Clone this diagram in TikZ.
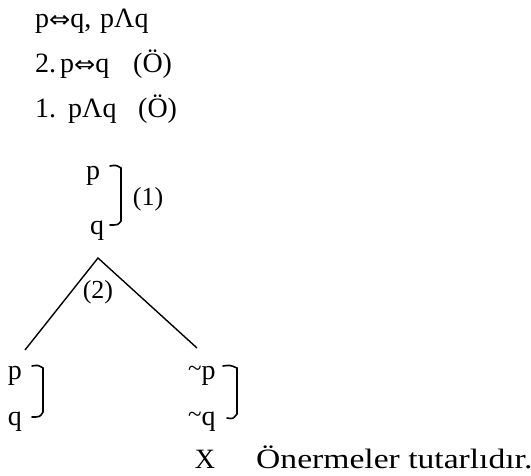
\documentclass[tikz,border=0pt]{standalone}
\usepackage{fontspec}
\setmainfont{Liberation Serif}
\newfontfamily\widef[FakeStretch=1.2]{Liberation Serif}
\newfontfamily\symf[FakeStretch=1.1]{DejaVu Sans}
\newcommand{\myiff}{{\symf\fontsize{23}{26}\selectfont ⇔}}
\newcommand{\mytil}{{\fontsize{25}{28}\selectfont\raisebox{3pt}{\char"7E}}}
\begin{document}
\begin{tikzpicture}[x=1pt,y=-1pt,
  txt/.style={inner sep=0pt,anchor=base west,font=\fontsize{28}{32}\selectfont},
  ctxt/.style={inner sep=0pt,anchor=base,font=\fontsize{28}{32}\selectfont},
  brk/.style={line width=1.6pt,line cap=round},
  branch/.style={line width=1.4pt}]
\useasboundingbox (0,0) rectangle (531,476);
% premises
\node[txt] (l1a) at (35,28) {p\myiff q,};
\node[txt] (l1b) at (100,28) {pΛq};
\node[txt] (l2a) at (35,73) {2.};
\node[txt] (l2b) at (60,73) {p\myiff q};
\node[txt] (l2c) at (133,73) {(Ö)};
\node[txt] (l3a) at (35,118) {1.};
\node[txt] (l3b) at (68,118) {pΛq};
\node[txt] (l3c) at (138,118) {(Ö)};
% trunk
\node[ctxt] (tp) at (93,180) {p};
\node[ctxt] (tq) at (97,235) {q};
\draw[brk] (110,166) .. controls (116,165) .. (121,168) -- (121,221) .. controls (118,225) .. (110,225);
\node[ctxt,font=\fontsize{26}{30}\selectfont] (one) at (148,206) {(1)};
% branches
\coordinate (apex) at (98,258);
\coordinate (lend) at (25,350);
\coordinate (rend) at (197,348);
\draw[branch] (lend) -- (apex) -- (rend);
\node[ctxt,font=\fontsize{26}{30}\selectfont] (two) at (98,299) {(2)};
% left branch
\node[ctxt] (lp) at (15,379) {p};
\node[ctxt] (lq) at (15,425) {q};
\draw[brk] (32,366) .. controls (38,365) .. (43,368) -- (43,412) .. controls (40,417) .. (32,417);
% right branch
\node[txt] (rp) at (188,379) {\mytil p};
\node[txt] (rq) at (188,425) {\mytil q};
\draw[brk] (223,366) .. controls (230,365) .. (237,368) -- (237,414) .. controls (233,419) .. (227,418);
\node[ctxt] (x) at (205,468) {X};
\node[txt,font=\widef\fontsize{28}{32}\selectfont] (res) at (256,468) {Önermeler tutarlıdır.};
\end{tikzpicture}
\end{document}
